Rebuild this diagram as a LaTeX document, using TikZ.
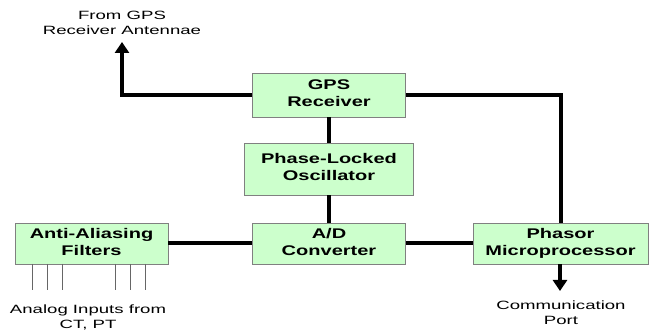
\documentclass[tikz,border=0pt]{standalone}
\usepackage{fontspec}
\setmainfont{Liberation Sans}
\usetikzlibrary{arrows.meta}
\definecolor{boxfill}{HTML}{CCFFCC}
\definecolor{boxedge}{HTML}{808080}
% centred lines of text, widened horizontally
\newcommand{\widetext}[2]{\scalebox{#1}[1]{\begin{tabular}{@{}c@{}}#2\end{tabular}}}
\begin{document}
\begin{tikzpicture}[x=1pt,y=-1pt,
  block/.style={draw=boxedge,line width=0.8pt,fill=boxfill,inner sep=0pt,
    font=\fontsize{14}{17}\selectfont\bfseries},
  link/.style={line width=4pt},
  outarrow/.style={line width=4pt,-{Triangle[length=11pt,width=14pt]}},
  label/.style={inner sep=0pt,font=\fontsize{12}{15}\selectfont},
  wire/.style={draw=black!60,line width=0.8pt}]
\useasboundingbox (0,0) rectangle (651,331);

% blocks
\node[block,minimum width=153pt,minimum height=44pt] (gps) at (329,95) {\widetext{1.43}{GPS\\Receiver}};
\node[block,minimum width=169pt,minimum height=52pt] (plo) at (329,169) {\widetext{1.43}{Phase-Locked\\Oscillator}};
\node[block,minimum width=153pt,minimum height=41pt] (aaf) at (91.5,243.5) {\widetext{1.43}{Anti-Aliasing\\Filters}};
\node[block,minimum width=153pt,minimum height=41pt] (adc) at (329,243.5) {\widetext{1.43}{A/D\\Converter}};
\node[block,minimum width=175pt,minimum height=41pt] (pmp) at (560.5,243.5) {\widetext{1.43}{Phasor\\Microprocessor}};

% text labels
\node[label] (ant) at (122,24) {\widetext{1.55}{From GPS\\Receiver Antennae}};
\node[label] (ain) at (88,318) {\widetext{1.55}{Analog Inputs from\\CT, PT}};
\node[label] (port) at (561,314) {\widetext{1.55}{Communication\\Port}};

% connectors between blocks
\draw[link] (gps) -- (plo);
\draw[link] (plo) -- (adc);
\draw[link] (aaf) -- (adc);
\draw[link] (adc) -- (pmp);
\draw[link] (gps.east) -| (pmp.north -| 561,0);
\coordinate (antend) at (122,42);
\draw[outarrow] (gps.west) -| (antend);
\coordinate (portend) at (560,291);
\draw[outarrow] (pmp.south -| portend) -- (portend);

% analog input wires
\foreach \xx in {32,47,62,115,130,145}
  \draw[wire] (\xx,264) -- (\xx,290);
\end{tikzpicture}
\end{document}
